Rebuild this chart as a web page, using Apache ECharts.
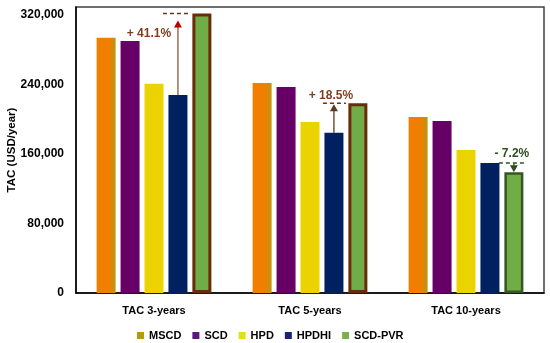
<!DOCTYPE html>
<html>
<head>
<meta charset="utf-8">
<script src="https://cdn.jsdelivr.net/npm/echarts@6/dist/echarts.min.js"></script>
<style>
  html, body { margin: 0; padding: 0; background: #fff; }
  #chart { width: 550px; height: 343px; }
</style>
</head>
<body>
<div id="chart"></div>
<script>
// ---- data ----
var categories = ['TAC 3-years', 'TAC 5-years', 'TAC 10-years'];
var seriesNames = ['MSCD', 'SCD', 'HPD', 'HPDHI', 'SCD-PVR'];
var MSCD   = [293500, 241700, 202600];
var SCD    = [290000, 237100, 198000];
var HPD    = [240600, 196800, 164600];
var HPDHI  = [227900, 184200, 149600];
var SCDPVR = [321600, 218300, 138800];
var changeLabels = ['+ 41.1%', '+ 18.5%', '- 7.2%'];
var yTicks = [0, 80000, 160000, 240000, 320000];

// ---- styles ----
var FONT = 'Liberation Sans';
var BAR_W = 19;
var GAP = 0.26;
var colors = ['#F07F00', '#660066', '#EBD300', '#002060', '#70AD47'];
var legendColors = ['#B39B12', '#5A1A78', '#DDE01A', '#1A2370', '#7DAF50'];
var pvrBorders = ['#6B2A0A', '#6B2A0A', '#375623'];

var chart = echarts.init(document.getElementById('chart'));

var valueSets = [MSCD, SCD, HPD, HPDHI, SCDPVR];
var barSeries = seriesNames.map(function (name, i) {
  var s = {
    name: name,
    type: 'bar',
    barWidth: BAR_W,
    barGap: (GAP * 100) + '%',
    barCategoryGap: '25%',
    itemStyle: { color: colors[i] },
    data: valueSets[i].slice()
  };
  if (i === 0) {
    s.itemStyle.color = new echarts.graphic.LinearGradient(0, 0, 1, 0, [
      { offset: 0, color: '#F07F00' }, { offset: 0.76, color: '#F07F00' },
      { offset: 0.77, color: '#C8900C' }, { offset: 1, color: '#C8900C' }
    ]);
  }
  if (i === 4) {
    s.data = valueSets[i].map(function (v, k) {
      return { value: v, itemStyle: { borderColor: pvrBorders[k], borderWidth: k === 2 ? 2.5 : 3 } };
    });
  }
  return s;
});

var annoData = categories.map(function (c, k) { return [k, HPDHI[k], SCDPVR[k]]; });

var annoStyles = [
  { shaft: '#8B5A3C', head: '#C00000', text: '#7F3F1F', dash: '#5C3A1E' },
  { shaft: '#5C3A1E', head: '#5C3A1E', text: '#7F3F1F', dash: '#5C3A1E' },
  { shaft: '#2F4F1F', head: '#2F4F1F', text: '#2F4F1F', dash: '#2F4F1F' }
];

function renderAnno(params, api) {
  var k = api.value(0);
  var from = api.value(1), to = api.value(2);
  var cx = api.coord([k, 0])[0];
  var pitch = BAR_W * (1 + GAP);
  var hx = cx + pitch, px = cx + 2 * pitch;
  var yFrom = api.coord([k, from])[1];
  var yTo = api.coord([k, to])[1];
  var st = annoStyles[k];
  var children = [];
  var ax, y1, y2, dashY, dx1, dx2, tx, ty;
  if (k === 0) {
    ax = hx; y1 = yFrom; y2 = yTo + 7; dashY = yTo; dx1 = hx - 15; dx2 = px - 12; tx = hx - 29; ty = yTo + 20;
  } else if (k === 1) {
    ax = hx; y1 = yFrom; y2 = yTo + 1; dashY = yTo; dx1 = hx - 11; dx2 = px - 12; tx = hx - 3; ty = yTo - 8;
  } else {
    ax = px; y1 = yFrom; y2 = yTo; dashY = yFrom; dx1 = px - 15; dx2 = px + 10; tx = px - 2; ty = yFrom - 9;
  }
  var dir = y2 < y1 ? -1 : 1;
  children.push({
    type: 'line',
    shape: { x1: ax, y1: y1, x2: ax, y2: y2 - dir * 6 },
    style: { stroke: st.shaft, lineWidth: 1.3 }
  });
  children.push({
    type: 'polygon',
    shape: { points: [[ax, y2], [ax - 4, y2 - dir * 7], [ax + 4, y2 - dir * 7]] },
    style: { fill: st.head }
  });
  children.push({
    type: 'line',
    shape: { x1: dx1, y1: dashY, x2: dx2, y2: dashY },
    style: { stroke: st.dash, lineWidth: 1.5, lineDash: [4, 3] }
  });
  children.push({
    type: 'text',
    style: {
      text: changeLabels[k], x: tx, y: ty, align: 'center', verticalAlign: 'middle',
      fill: st.text, font: 'bold 12px "' + FONT + '"'
    }
  });
  return { type: 'group', children: children };
}

var option = {
  animation: false,
  textStyle: { fontFamily: FONT },
  grid: {
    left: 76, right: 6, top: 7, bottom: 50,
    outerBoundsMode: 'none',
    containLabel: false,
    show: true, borderColor: '#404040', borderWidth: 1.5, backgroundColor: 'transparent'
  },
  legend: {
    top: 325,
    left: 132,
    icon: 'rect',
    itemWidth: 7,
    itemHeight: 7,
    itemGap: 11,
    textStyle: { fontFamily: FONT, fontWeight: 'bold', fontSize: 11, color: '#000' },
    data: seriesNames.map(function (n, i) { return { name: n, itemStyle: { color: legendColors[i] } }; })
  },
  xAxis: {
    type: 'category',
    data: categories,
    axisLine: { lineStyle: { color: '#000', width: 1.5 } },
    axisTick: { show: false },
    axisLabel: { margin: 12, fontFamily: FONT, fontWeight: 'bold', fontSize: 11, color: '#000' }
  },
  yAxis: {
    type: 'value',
    min: 0,
    max: 329000,
    interval: 80000,
    name: 'TAC (USD/year)',
    nameLocation: 'middle',
    nameGap: 58,
    nameMoveOverlap: false,
    nameTextStyle: { fontFamily: FONT, fontWeight: 'bold', fontSize: 11.5, color: '#000' },
    axisLine: { show: true, lineStyle: { color: '#000', width: 1.5 } },
    axisTick: { show: false },
    splitLine: { show: false },
    axisLabel: {
      margin: 12, fontFamily: FONT, fontWeight: 'bold', fontSize: 12, color: '#000',
      showMaxLabel: false,
      formatter: function (v) { return yTicks.indexOf(v) >= 0 ? v.toLocaleString('en-US') : ''; }
    }
  },
  series: barSeries.concat([{
    type: 'custom',
    name: 'annotations',
    renderItem: renderAnno,
    data: annoData,
    z: 10,
    silent: true
  }])
};

chart.setOption(option);
</script>
</body>
</html>
